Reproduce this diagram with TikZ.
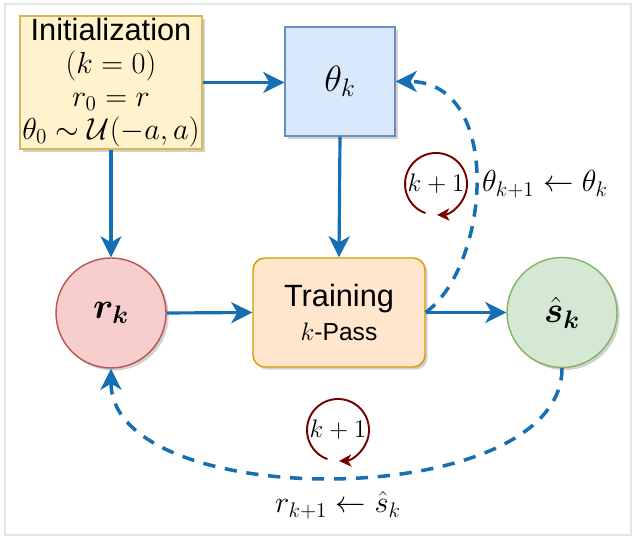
\documentclass[tikz,border=0pt]{standalone}
\usepackage{fontspec}
\setsansfont{Liberation Sans}
\usepackage{amsmath,amssymb,bm}
\usepackage{tikz}
\usetikzlibrary{arrows.meta,positioning,calc,shadows}
\definecolor{flowblue}{RGB}{22,111,178}
\definecolor{loopred}{RGB}{122,0,0}
\definecolor{initfill}{HTML}{FFF2CC}
\definecolor{initdraw}{HTML}{D6B656}
\definecolor{paramfill}{HTML}{DAE8FC}
\definecolor{paramdraw}{HTML}{6C8EBF}
\definecolor{rfill}{HTML}{F8CECC}
\definecolor{rdraw}{HTML}{B85450}
\definecolor{trainfill}{HTML}{FFE6CC}
\definecolor{traindraw}{HTML}{D79B00}
\definecolor{sfill}{HTML}{D5E8D4}
\definecolor{sdraw}{HTML}{82B366}
\tikzset{
  soft shadow/.style={
    drop shadow={shadow xshift=1.5pt, shadow yshift=-1.5pt, opacity=0.18, fill=black}
  }
}
\tikzset{
  init node/.style={
    rectangle,
    draw=initdraw,
    fill=initfill,
    line width=0.8pt,
    soft shadow,
    minimum width=3.64cm,
    minimum height=2.66cm,
    inner sep=1pt,
    align=center,
    font=\fontsize{16.5}{18.8}\selectfont
  }
}
\tikzset{
  param node/.style={
    rectangle,
    draw=paramdraw,
    fill=paramfill,
    line width=0.8pt,
    soft shadow,
    minimum width=2.2cm,
    minimum height=2.18cm,
    font=\fontsize{19.5}{22}\selectfont
  }
}
\tikzset{
  state node/.style={
    circle,
    line width=0.8pt,
    soft shadow,
    minimum size=2.2cm,
    font=\fontsize{19.5}{22}\selectfont
  }
}
\tikzset{
  train node/.style={
    rectangle,
    rounded corners=2.4mm,
    draw=traindraw,
    fill=trainfill,
    line width=0.8pt,
    soft shadow,
    minimum width=3.44cm,
    minimum height=2.18cm,
    align=center,
    font=\fontsize{14}{19}\selectfont
  }
}
\tikzset{
  relation/.style={
    -{Stealth[length=12pt,width=12pt,inset=3.5pt]},
    draw=flowblue,
    line width=1.8pt
  }
}
\tikzset{
  feedback/.style={
    relation,
    line width=2pt,
    dash pattern=on 7pt off 5.5pt
  }
}
\tikzset{
  loop arrow/.style={
    -{Stealth[length=7pt,width=7pt,inset=2pt]},
    draw=loopred,
    line width=1.1pt
  }
}
\tikzset{
  update label/.style={
    inner sep=1pt,
    font=\fontsize{17}{20}\selectfont
  }
}
\tikzset{
  loop label/.style={
    inner sep=1pt,
    font=\fontsize{14}{17}\selectfont
  }
}

\begin{document}
\begin{tikzpicture}

    \useasboundingbox (0,0) rectangle (12.8,10.92);
    \draw[draw=black!10, line width=1pt] (0.1,0.22) rectangle (12.62,10.84);

    % ------------------------------------------------------------
    % Nodes
    % ------------------------------------------------------------

    \node[init node] (init) at (2.22,9.27)
    {
      {\sffamily\fontsize{17.5}{18.8}\selectfont Initialization}\\
      $(k=0)$\\
      $r_0=r$\\
      $\theta_0\sim\mathcal{U}(-a,a)$
    };

    \node[param node] (theta) at (6.8,9.29)
    {
      $\theta_k$
    };

    \node[state node, draw=rdraw, fill=rfill] (rk) at (2.22,4.66)
    {
      $\bm{r}_{\bm{k}}$
    };

    \node[train node] (training) at (6.78,4.67)
    {
      {\sffamily\fontsize{17.5}{19}\selectfont Training}\\
      $k$\textsf{-Pass}
    };

    \node[state node, draw=sdraw, fill=sfill] (shat) at (11.24,4.67)
    {
      $\hat{\bm{s}}_{\bm{k}}$
    };

    % Iteration counters with their update rules
    \node[loop label] (countTheta) at (8.72,7.24) {$k+1$};
    \node[update label] (updTheta) at (10.9,7.24) {$\theta_{k+1}\leftarrow\theta_k$};

    \node[loop label] (countR) at (6.76,2.32) {$k+1$};
    \node[update label] (updR) at (6.76,0.82) {$r_{k+1}\leftarrow\hat{s}_k$};

    % ------------------------------------------------------------
    % Forward flow
    % ------------------------------------------------------------

    \draw[relation] (init.east) -- (init.east -| theta.west);
    \draw[relation] (init.south) -- (rk.north);
    \draw[relation] (theta.south) -- (training.north);
    \draw[relation] (rk.east) -- (training.west);
    \draw[relation] (training.east) -- (shat.west);

    % ------------------------------------------------------------
    % Feedback loops
    % ------------------------------------------------------------

    \draw[feedback]
      (training.east)
      .. controls +(1.3,0.96) and +(2.15,0) ..
      (theta.east);

    \draw[feedback]
      (shat.south)
      .. controls +(0,-2.9) and +(0,-2.9) ..
      (rk.south);

    \draw[loop arrow]
      (countTheta.center) ++(250:0.62)
      arc[start angle=250, end angle=-88, radius=0.62];

    \draw[loop arrow]
      (countR.center) ++(250:0.62)
      arc[start angle=250, end angle=-88, radius=0.62];

    \end{tikzpicture}
\end{document}
